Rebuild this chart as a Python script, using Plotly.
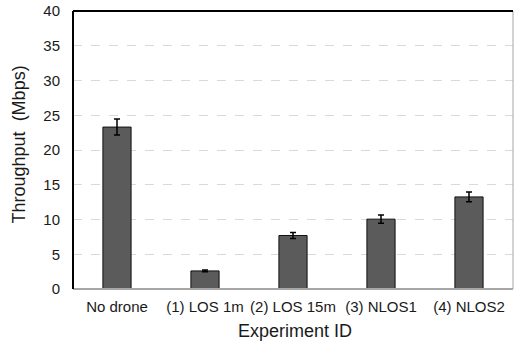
import plotly.graph_objects as go

categories = ["No drone", "(1) LOS 1m", "(2) LOS 15m", "(3) NLOS1", "(4) NLOS2"]
throughput = [23.3, 2.6, 7.7, 10.05, 13.25]
errors = [1.15, 0.12, 0.43, 0.58, 0.7]
y_ticks = [0, 5, 10, 15, 20, 25, 30, 35, 40]

FONT = "Liberation Sans, Arial, sans-serif"
TEXT = "#1a1a1a"

fig = go.Figure()
fig.add_trace(go.Bar(
    x=categories, y=throughput,
    width=0.32,
    marker=dict(color="#5b5b5b", line=dict(color="#111111", width=1)),
    error_y=dict(type="data", array=errors, color="#000000", thickness=1.5, width=3),
))

fig.update_layout(
    width=514, height=348,
    margin=dict(l=73, r=1, t=11, b=59, autoexpand=False),
    paper_bgcolor="white", plot_bgcolor="white",
    font=dict(family=FONT, color=TEXT, size=15),
    showlegend=False,
    xaxis=dict(
        showgrid=False, showline=False, zeroline=False, automargin=False,
        tickfont=dict(size=15, color=TEXT),
        ticklabelstandoff=7,
    ),
    yaxis=dict(
        range=[0, 40], tickvals=y_ticks, automargin=False,
        showgrid=True, gridcolor="#d9d9d9", griddash="dash", gridwidth=1,
        zeroline=False, showline=False,
        tickfont=dict(size=15, color=TEXT),
        ticklabelstandoff=12,
    ),
)

fig.add_annotation(
    text="Experiment ID", xref="paper", yref="paper", x=0.505, y=0,
    xanchor="center", yanchor="top", yshift=-30, showarrow=False,
    font=dict(family=FONT, size=18, color=TEXT),
)
fig.add_annotation(
    text="Throughput\u00a0 (Mbps)", xref="paper", yref="paper", x=0, y=0.52,
    xanchor="center", yanchor="middle", xshift=-54, textangle=-90, showarrow=False,
    font=dict(family=FONT, size=18, color=TEXT),
)

# Plot borders
fig.add_shape(type="line", xref="paper", yref="paper", x0=0, x1=1, y0=0, y1=0,
              line=dict(color="#a6a6a6", width=2))
fig.add_shape(type="line", xref="paper", yref="paper", x0=1, x1=1, y0=0, y1=1,
              line=dict(color="#a6a6a6", width=1))
fig.add_shape(type="line", xref="paper", yref="paper", x0=0, x1=1, y0=1, y1=1,
              line=dict(color="#000000", width=2))
fig.add_shape(type="line", xref="paper", yref="paper", x0=0, x1=0, y0=0, y1=1,
              line=dict(color="#000000", width=2))

fig.write_html(
    "out.html",
    config={"displayModeBar": False},
    post_script="document.body.style.margin='0';document.body.style.overflow='hidden';",
)
